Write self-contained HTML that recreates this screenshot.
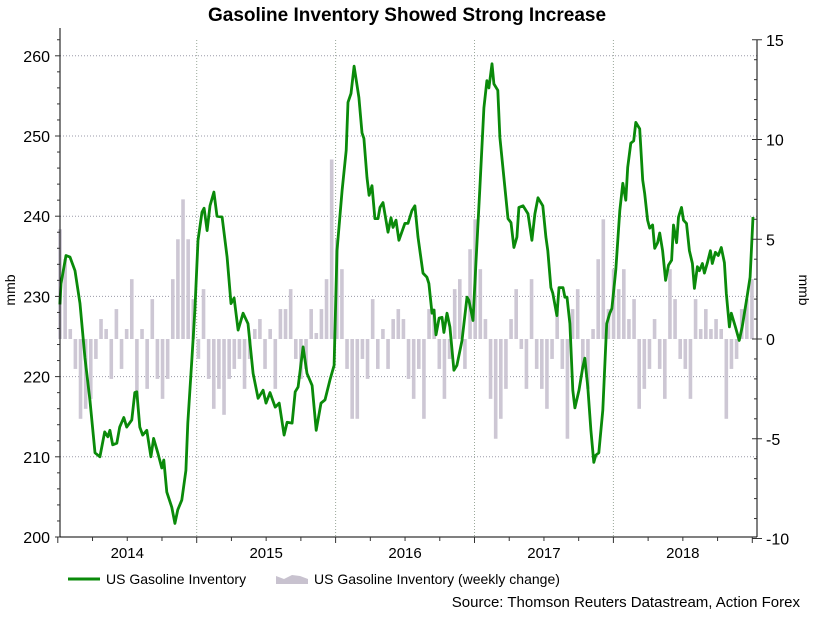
<!DOCTYPE html>
<html><head><meta charset="utf-8"><title>Gasoline Inventory</title>
<style>
html,body{margin:0;padding:0;background:#fff;}
body{width:814px;height:614px;overflow:hidden;font-family:"Liberation Sans",Arial,sans-serif;}
svg text{font-family:"Liberation Sans",Arial,sans-serif;}
</style></head>
<body>
<svg id="chart" width="814" height="614" viewBox="0 0 814 614" xmlns="http://www.w3.org/2000/svg">
  <text x="407" y="21" text-anchor="middle" font-size="19" font-weight="bold" fill="#000">Gasoline Inventory Showed Strong Increase</text>
  <g id="grid"></g>
  <g id="bars"></g>
  <g id="line"></g>
  <g id="axes"></g>
  <text transform="translate(15,290) rotate(-90)" text-anchor="middle" font-size="14" fill="#000">mmb</text>
  <text transform="translate(799,290) rotate(90)" text-anchor="middle" font-size="14" fill="#000">mmb</text>
  <g>
    <line x1="68" y1="579" x2="100" y2="579" stroke="#0a8a0a" stroke-width="3"/>
    <text x="106" y="584" font-size="14" fill="#000">US Gasoline Inventory</text>
    <path d="M276,584 L276,576 L284,579 L292,575 L300,576 L308,579 L308,584 Z" fill="#c8c2cf"/>
    <text x="314" y="584" font-size="14" fill="#000">US Gasoline Inventory (weekly change)</text>
  </g>
  <text x="800" y="607" text-anchor="end" font-size="15" fill="#000">Source: Thomson Reuters Datastream, Action Forex</text>
</svg>
<script>
// ---- data ----
const dates = [2014.015,2014.023,2014.059,2014.088,2014.124,2014.160,2014.195,2014.231,2014.268,2014.303,2014.338,2014.360,2014.375,2014.395,2014.425,2014.446,2014.475,2014.496,2014.533,2014.554,2014.569,2014.590,2014.611,2014.641,2014.670,2014.690,2014.720,2014.749,2014.763,2014.785,2014.821,2014.843,2014.864,2014.893,2014.922,2014.936,2014.966,2014.987,2015.009,2015.038,2015.053,2015.075,2015.096,2015.124,2015.146,2015.183,2015.219,2015.247,2015.269,2015.298,2015.334,2015.369,2015.406,2015.442,2015.478,2015.499,2015.528,2015.565,2015.594,2015.629,2015.651,2015.687,2015.709,2015.730,2015.766,2015.794,2015.831,2015.860,2015.895,2015.924,2015.960,2015.989,2016.010,2016.047,2016.076,2016.089,2016.111,2016.133,2016.168,2016.190,2016.204,2016.226,2016.241,2016.262,2016.283,2016.305,2016.320,2016.341,2016.377,2016.399,2016.413,2016.435,2016.456,2016.499,2016.521,2016.549,2016.571,2016.593,2016.629,2016.657,2016.672,2016.694,2016.708,2016.723,2016.745,2016.766,2016.780,2016.802,2016.823,2016.852,2016.873,2016.910,2016.946,2016.960,2016.989,2017.010,2017.039,2017.068,2017.089,2017.104,2017.126,2017.140,2017.168,2017.183,2017.212,2017.241,2017.263,2017.284,2017.305,2017.320,2017.349,2017.385,2017.413,2017.435,2017.457,2017.492,2017.514,2017.528,2017.550,2017.564,2017.593,2017.608,2017.637,2017.651,2017.666,2017.687,2017.708,2017.723,2017.752,2017.780,2017.794,2017.816,2017.838,2017.859,2017.873,2017.895,2017.924,2017.952,2017.974,2017.989,2018.017,2018.046,2018.068,2018.089,2018.103,2018.125,2018.146,2018.161,2018.189,2018.211,2018.225,2018.246,2018.261,2018.282,2018.297,2018.318,2018.333,2018.354,2018.376,2018.397,2018.419,2018.433,2018.455,2018.469,2018.490,2018.505,2018.526,2018.547,2018.569,2018.583,2018.605,2018.619,2018.641,2018.655,2018.677,2018.698,2018.712,2018.734,2018.755,2018.777,2018.799,2018.813,2018.835,2018.849,2018.878,2018.906,2018.927,2018.962,2018.984,2019.005];
const inventory = [229.0,231.6,235.1,234.9,233.2,229.1,222.4,217.1,210.5,210.0,213.1,212.5,213.3,211.5,211.7,213.7,214.9,213.7,214.6,218.0,218.1,213.7,212.7,213.3,210.0,212.3,210.5,208.6,209.6,205.6,203.7,201.7,203.4,204.6,208.3,214.2,222.4,228.3,237.0,240.5,241.0,238.2,241.3,243.0,240.0,239.9,234.9,229.1,229.8,225.8,227.9,226.6,220.4,217.3,218.3,216.7,218.0,216.2,216.7,212.7,214.3,214.2,218.1,218.7,223.7,220.4,218.9,213.3,216.7,217.1,219.6,221.4,235.7,243.2,248.2,254.2,255.3,258.7,254.8,250.4,249.7,244.8,242.6,243.8,239.7,239.7,241.1,241.7,238.0,239.8,238.6,239.5,237.0,239.1,239.1,240.7,241.3,237.4,232.9,232.4,231.6,227.9,228.3,225.2,227.3,227.4,225.5,227.9,226.2,220.8,221.4,224.5,229.9,229.5,227.0,234.1,243.6,253.5,256.9,256.0,259.0,256.5,255.7,249.8,244.8,239.7,239.2,236.1,237.4,241.1,241.3,240.3,237.0,240.3,242.3,241.3,237.4,235.7,231.1,230.4,227.6,231.1,231.1,229.9,229.9,226.6,218.3,216.1,218.3,221.2,222.3,218.7,213.3,209.3,210.2,210.5,215.8,226.6,227.9,228.5,233.3,240.7,244.1,242.0,246.1,249.1,249.4,251.7,250.9,244.5,242.8,239.5,238.5,238.9,236.0,236.7,237.9,235.7,232.0,233.9,234.5,238.9,236.7,239.9,241.1,239.5,239.1,235.7,234.1,231.0,233.7,233.2,234.1,232.9,234.2,235.7,234.1,235.5,235.1,236.1,234.2,230.4,226.2,227.9,226.2,224.5,226.2,229.9,232.4,239.9];
const changeStart = 2014.016;
const changeStep = 0.0369;
const weeklyChange = [5.5,4,0.5,-1.5,-4,-3.5,-3,-1,1,0.5,-2,1.5,-1.5,0.5,3,-3,0.5,-2.5,2,-2,-3,-2,3,5,7,5,2,-1,2.5,-2,-3.5,-2.5,-3.8,-2,-1.5,-1,-2.5,-1,0.5,1,-1.5,0.5,-2.5,1.5,1.5,
 2.5,-1,-2,-1.5,1.5,0.3,1.5,3,9,5,3.5,-1.5,-4,-4,-1,-2,2,-1.5,0.5,-1.5,1,1.5,1,-2,-3,-1.5,-4,1.5,1.5,-1.5,-3,-1,2.5,3,-1.5,4.5,6,3.5,1,-3,-5,-4,-2.5,
 1,2.5,-0.5,-2.5,3,-1.5,-2.5,-3.5,-1,1.5,-1.5,-5,1.5,2.5,-1.5,-2.5,0.5,4,6,1.5,3.5,2.5,3.5,1,2,-3.5,-2.5,-1.5,1,-1.5,-3,3.5,2,-1,-1.5,-3,2,0.5,1.5,0.5,1,0.5,-4,-1.5,-1,1.5,2,3];
const yearLabels = ["2014","2015","2016","2017","2018"];
const leftTicks = [200,210,220,230,240,250,260];
const rightTicks = [-10,-5,0,5,10,15];

// ---- axes functions ----
const X0 = 57.8, XPY = 138.9;
const x = t => X0 + (t - 2014) * XPY;
const yL = v => 537 - (v - 200) * 8.02;
const yR = v => 339 - v * 19.95;
const NS = "http://www.w3.org/2000/svg";
function mk(tag, attrs, parent){
  const el = document.createElementNS(NS, tag);
  for (const k in attrs) el.setAttribute(k, attrs[k]);
  parent.appendChild(el);
  return el;
}
const grid = document.getElementById('grid');
const axes = document.getElementById('axes');
const barsG = document.getElementById('bars');
const lineG = document.getElementById('line');
const PL = 60, PR = 757, PT = 40, PB = 537;

leftTicks.forEach(v => {
  if (v === 200) return;
  const g = mk('line', {x1:PL, x2:PR, y1:yL(v), y2:yL(v), stroke:'#9a9aa8', 'stroke-width':1, 'stroke-dasharray':'1,2'}, grid);
  
  
});
for (let yr = 2015; yr <= 2018; yr++) {
  const g = mk('line', {x1:x(yr), x2:x(yr), y1:PT, y2:PB, stroke:'#9aa89a', 'stroke-width':1, 'stroke-dasharray':'1,2'}, grid);
  
  
}

weeklyChange.forEach((v, i) => {
  const t = changeStart + i * changeStep;
  const cx = x(t);
  const y0 = yR(0), y1 = yR(v);
  const b = mk('rect', {x:cx - 1.8, y:Math.min(y0, y1), width:3.6, height:Math.abs(y1 - y0), fill:'#cdc7d4'}, barsG);
  
  
});

let d = '';
dates.forEach((t, i) => { d += (i ? 'L' : 'M') + x(t).toFixed(1) + ',' + yL(inventory[i]).toFixed(1); });
const ln = mk('path', {d:d, fill:'none', stroke:'#0a8a0a', 'stroke-width':2.8, 'stroke-linejoin':'round'}, lineG);



[[PL,PT-12,PL,PB],[PR,PT,PR,PB],[PL,PB,PR,PB]].forEach(a => {
  const l = mk('line', {x1:a[0], y1:a[1], x2:a[2], y2:a[3], stroke:'#000', 'stroke-width':1}, axes);
  
  
});
for (let v = 200; v <= 262; v += 2) {
  const major = v % 10 === 0;
  const t = mk('line', {x1:PL - (major ? 5 : 3), x2:PL, y1:yL(v), y2:yL(v), stroke:'#333', 'stroke-width':1}, axes);
  
  
}
leftTicks.forEach(v => {
  const tx = mk('text', {x:50, y:yL(v) + 6, 'text-anchor':'end', 'font-size':16, fill:'#000'}, axes);
  tx.textContent = v;
  
  
});
for (let v = -10; v <= 15; v++) {
  const major = v % 5 === 0;
  const t = mk('line', {x1:PR - (major ? 5 : 3), x2:PR + (major ? 5 : 0), y1:yR(v), y2:yR(v), stroke:'#333', 'stroke-width':1}, axes);
  
  
}
rightTicks.forEach(v => {
  const tx = mk('text', {x:766, y:yR(v) + 6, 'text-anchor':'start', 'font-size':16, fill:'#000'}, axes);
  tx.textContent = v;
  
  
});
for (let q = 0; q <= 20; q++) {
  const t = 2014 + q / 4;
  const major = q % 4 === 0;
  const tk = mk('line', {x1:x(t), x2:x(t), y1:PB, y2:PB + (major ? 6 : 4), stroke:'#333', 'stroke-width':1}, axes);
  
  
}
yearLabels.forEach((lab, i) => {
  const tx = mk('text', {x:x(2014.5 + i), y:558, 'text-anchor':'middle', 'font-size':15, fill:'#000'}, axes);
  tx.textContent = lab;
  
  
});
</script>
</body></html>
